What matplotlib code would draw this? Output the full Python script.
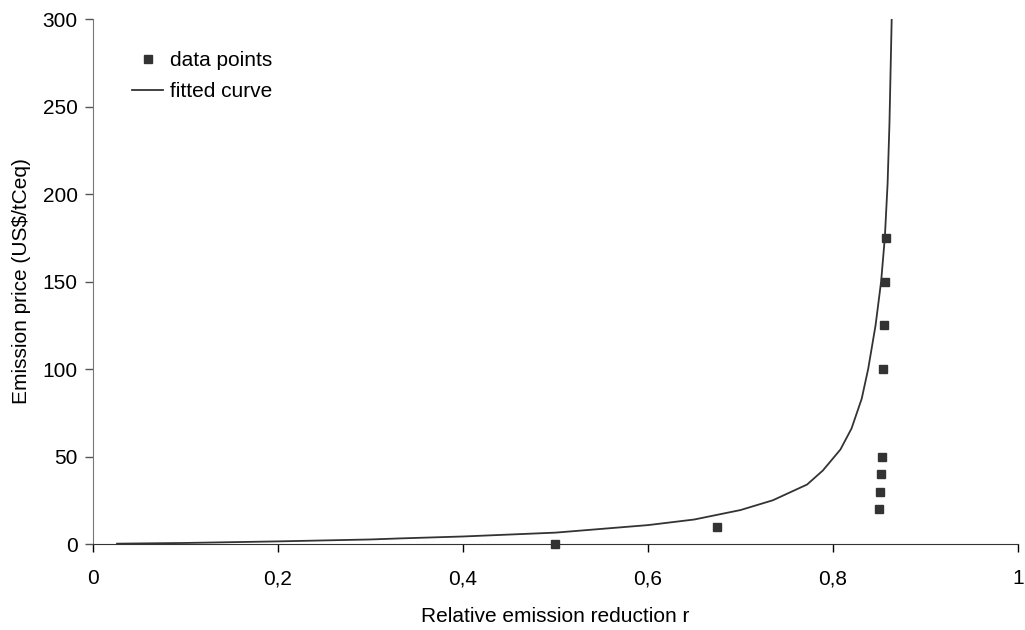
import matplotlib
matplotlib.use("Agg")
import matplotlib.pyplot as plt
from matplotlib.ticker import FuncFormatter

plt.rcParams['font.family'] = ['Liberation Sans', 'DejaVu Sans']

# data points
r_points = [0.500, 0.675, 0.850, 0.851, 0.852, 0.853, 0.854, 0.855, 0.856, 0.857]
price_points = [0, 10, 20, 30, 40, 50, 100, 125, 150, 175]

# fitted curve, read point by point
r_curve = [0.026, 0.1, 0.2, 0.3, 0.332, 0.4, 0.5, 0.6, 0.65, 0.7, 0.735,
           0.772, 0.789, 0.808, 0.82, 0.831, 0.838, 0.846, 0.852, 0.856,
           0.859, 0.861, 0.8635]
price_curve = [0.2, 0.6, 1.5, 2.6, 3.2, 4.3, 6.5, 10.8, 14.0, 19.4, 25,
               34, 42, 54, 66, 83, 100, 125, 150, 175, 206, 240, 302]

x_ticks = [0, 0.2, 0.4, 0.6, 0.8, 1.0]
y_ticks = [0, 50, 100, 150, 200, 250, 300]

fig = plt.figure(figsize=(10.25, 6.3), dpi=100)
ax = fig.add_axes([0.0907, 0.1365, 0.9025, 0.8333])

dark = '#333333'
ax.plot(r_points, price_points, 's', color=dark, markersize=6.2,
        label='data points', clip_on=False, zorder=3)
ax.plot(r_curve, price_curve, '-', color=dark, linewidth=1.3, label='fitted curve')

ax.set_xlim(0, 1)
ax.set_ylim(0, 300)
ax.set_xticks(x_ticks)
ax.set_yticks(y_ticks)

def comma(x, pos):
    return f'{x:g}'.replace('.', ',')

ax.xaxis.set_major_formatter(FuncFormatter(comma))
ax.tick_params(labelsize=15, length=6, width=1, colors='black')
ax.tick_params(axis='x', pad=12)
ax.tick_params(axis='y', colors='#555555', labelcolor='black', pad=5)

for side in ['top', 'right']:
    ax.spines[side].set_visible(False)
ax.spines['bottom'].set_color(dark)
ax.spines['left'].set_color('#777777')

ax.set_xlabel('Relative emission reduction r', fontsize=15, labelpad=14)
ax.set_ylabel('Emission price (US$/tCeq)', fontsize=15, labelpad=8)

leg = ax.legend(loc='upper left', bbox_to_anchor=(0.022, 0.975), frameon=False,
                fontsize=15, handlelength=1.5, handletextpad=0.3,
                labelspacing=0.6, markerscale=0.9)

fig.savefig('out.png', dpi=100)
